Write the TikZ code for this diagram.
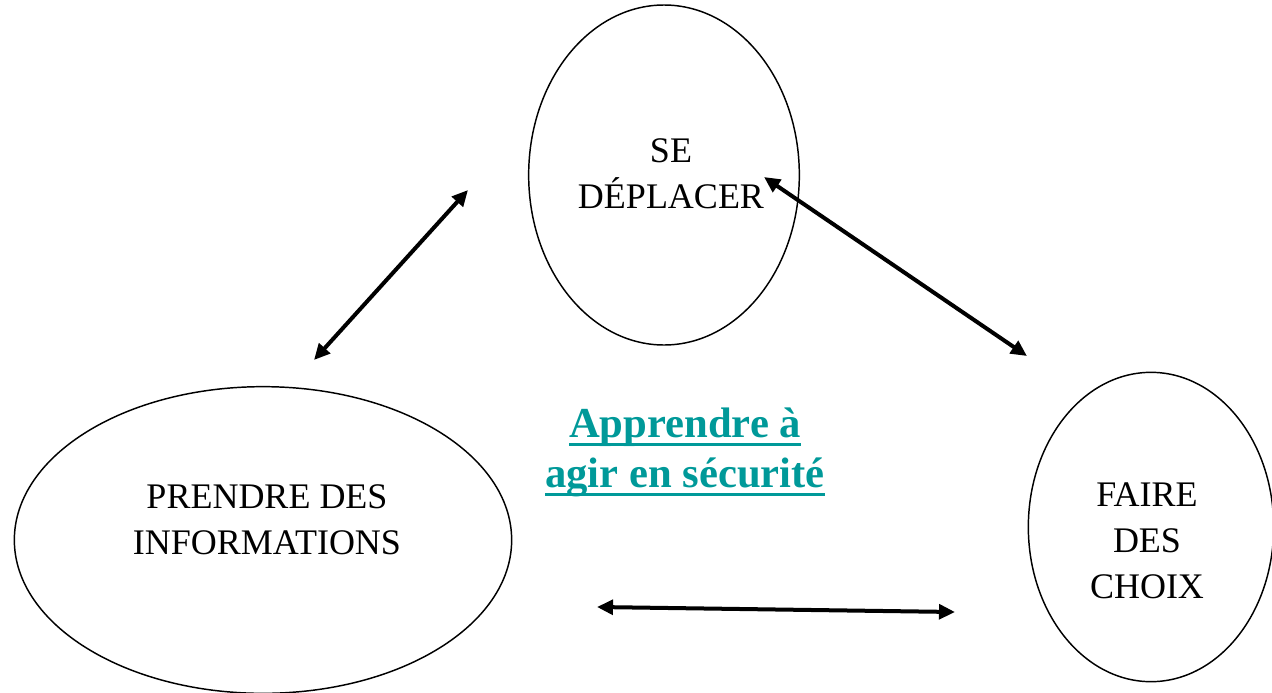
\documentclass[tikz,border=0pt]{standalone}
\usepackage{fontspec}
\setmainfont{Liberation Serif}
\usetikzlibrary{shapes.geometric,arrows.meta}
\definecolor{titleteal}{HTML}{009999}
\newcommand{\myUL}[1]{\setbox0\hbox{#1}\rlap{\rule[-6.5pt]{\wd0}{2.2pt}}\box0}
\tikzset{
  oval/.style={draw, ellipse, line width=1.1pt, inner sep=0pt},
  lbl/.style={align=center, inner sep=0pt, font=\fontsize{27}{34.5}\selectfont},
  link/.style={line width=3pt, {Triangle[length=12pt,width=11pt]}-{Triangle[length=12pt,width=11pt]}}
}
\begin{document}
\begin{tikzpicture}[x=0.75pt,y=-0.75pt]
\useasboundingbox (0,0) rectangle (1272,693);
% ellipses
\node[oval, minimum width=203pt, minimum height=255pt] (dep) at (664,175) {};
\node[oval, minimum width=373pt, minimum height=230pt] (info) at (263,540) {};
\node[oval, minimum width=184pt, minimum height=232pt] (choix) at (1151,527) {};
% labels
\node[lbl] (depT) at (671,174) {SE\\DÉPLACER};
\node[lbl] (infoT) at (267,520) {PRENDRE DES\\INFORMATIONS};
\node[lbl] (choixT) at (1147,541) {FAIRE\\DES\\CHOIX};
% title
\node[align=center, inner sep=0pt, text=titleteal, font=\fontsize{32}{37.5}\selectfont\bfseries] (title) at (685,452)
  {\myUL{Apprendre à}\\\myUL{agir en sécurité}};
% arrow ends
\coordinate (a1) at (314,360);
\coordinate (a2) at (468,190);
\coordinate (b1) at (764,177);
\coordinate (b2) at (1027,356);
\coordinate (c1) at (597,607);
\coordinate (c2) at (955,612);
\draw[link] (a1) -- (a2);
\draw[link] (b1) -- (b2);
\draw[link] (c1) -- (c2);
\end{tikzpicture}
\end{document}
